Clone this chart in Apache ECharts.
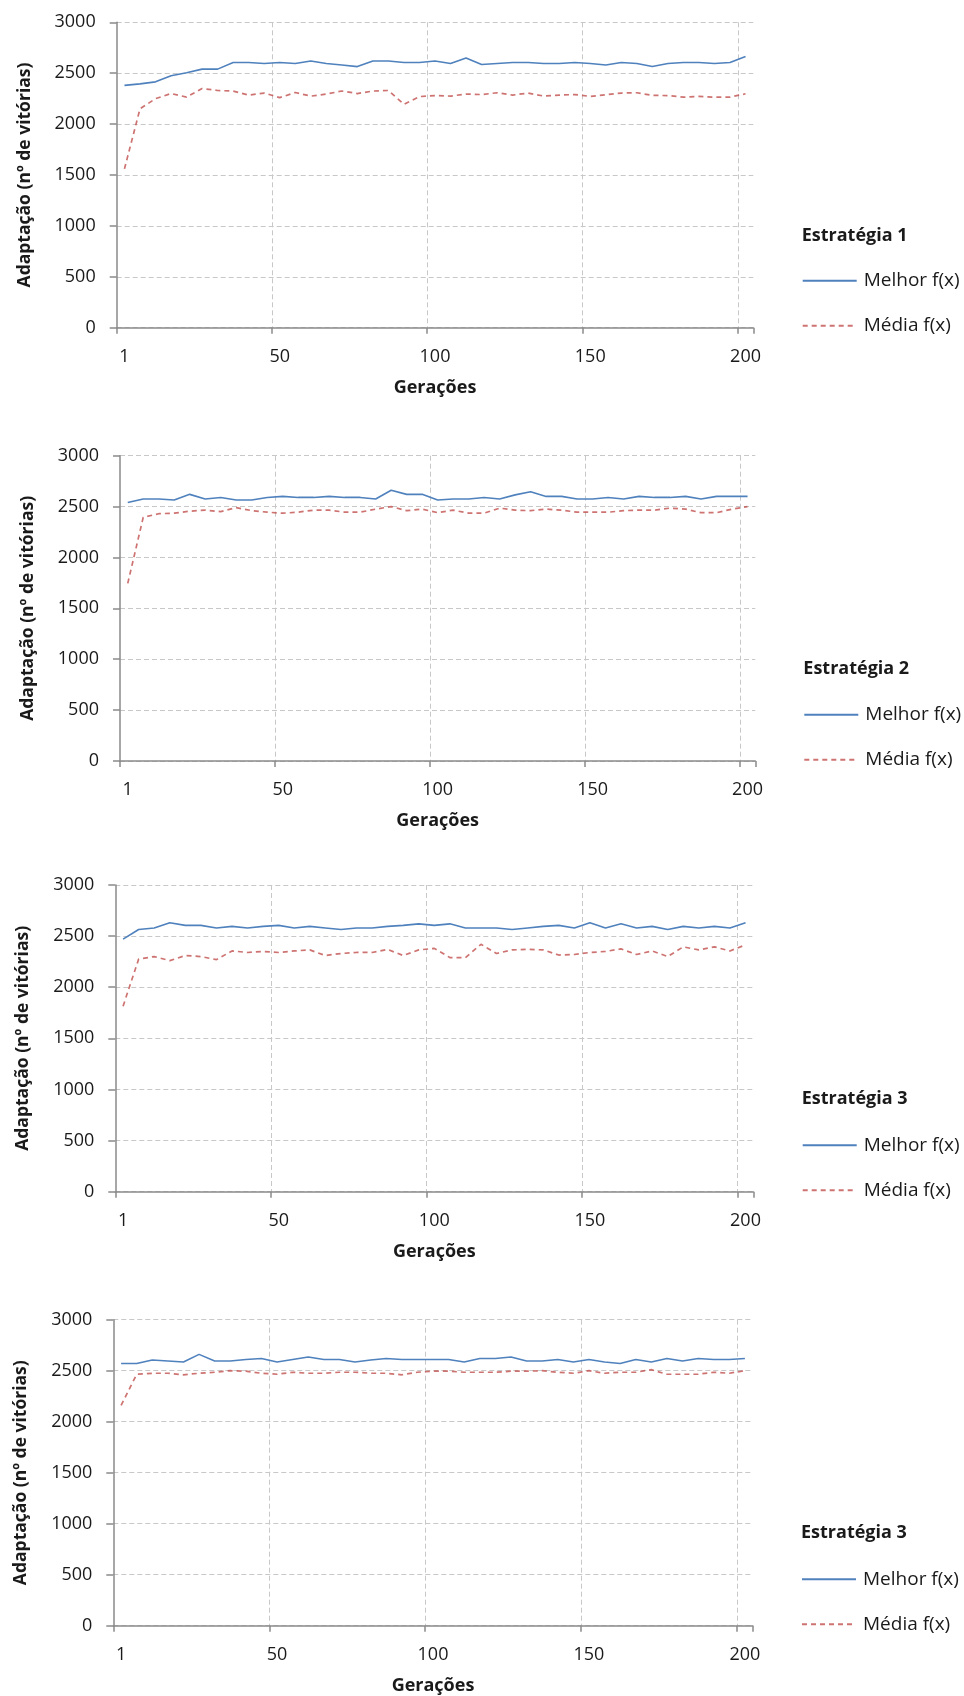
<!DOCTYPE html>
<html>
<head>
<meta charset="utf-8">
<script src="https://cdn.jsdelivr.net/npm/echarts@6/dist/echarts.min.js"></script>
<style>
html,body{margin:0;padding:0;background:#fff;}
#chart{width:964px;height:1696px;}
</style>
</head>
<body>
<div id="chart"></div>
<script>
const generations = ['1','5','10','15','20','25','30','35','40','45','50','55','60','65','70','75','80','85','90','95','100','105','110','115','120','125','130','135','140','145','150','155','160','165','170','175','180','185','190','195','200'];

const panelTitles = ['Estratégia 1', 'Estratégia 2', 'Estratégia 3', 'Estratégia 3'];
const seriesNames = ['Melhor f(x)', 'Média f(x)'];
const xAxisTitle = 'Gerações';
const yAxisTitle = 'Adaptação (nº de vitórias)';

const melhor1 = [2380,2395,2415,2475,2505,2540,2540,2605,2605,2595,2605,2595,2620,2595,2580,2565,2620,2620,2605,2605,2620,2595,2650,2585,2595,2605,2605,2595,2595,2605,2595,2580,2605,2595,2565,2595,2605,2605,2595,2605,2665];
const media1  = [1560,2150,2250,2300,2265,2350,2330,2325,2285,2305,2260,2310,2275,2295,2325,2300,2325,2330,2195,2270,2280,2275,2295,2290,2308,2285,2305,2275,2285,2290,2272,2288,2305,2308,2282,2280,2265,2272,2265,2265,2298];

const melhor2 = [2540,2575,2575,2565,2620,2575,2590,2565,2565,2590,2600,2590,2590,2600,2590,2590,2575,2660,2620,2620,2565,2575,2575,2590,2575,2615,2645,2600,2600,2575,2575,2590,2575,2600,2590,2590,2600,2575,2600,2600,2600];
const media2  = [1745,2395,2430,2435,2455,2465,2450,2490,2460,2445,2435,2445,2465,2465,2445,2445,2475,2500,2460,2475,2440,2465,2435,2435,2485,2465,2460,2475,2465,2445,2445,2445,2460,2465,2465,2485,2475,2440,2440,2475,2500];

const melhor3 = [2470,2565,2580,2630,2605,2605,2580,2595,2580,2595,2605,2580,2595,2580,2565,2580,2580,2595,2605,2620,2605,2620,2580,2580,2580,2565,2580,2595,2605,2580,2630,2580,2620,2580,2595,2565,2595,2580,2595,2580,2630];
const media3  = [1815,2275,2300,2260,2310,2300,2270,2355,2340,2350,2340,2355,2365,2310,2330,2340,2340,2370,2310,2365,2380,2290,2290,2420,2330,2365,2370,2365,2315,2320,2340,2350,2375,2320,2355,2300,2395,2365,2395,2355,2415];

const melhor4 = [2570,2570,2605,2595,2585,2660,2595,2595,2610,2620,2585,2610,2635,2610,2610,2585,2605,2620,2610,2610,2610,2610,2585,2620,2620,2635,2595,2595,2610,2585,2610,2585,2570,2610,2585,2620,2595,2620,2610,2610,2620];
const media4  = [2160,2465,2475,2475,2460,2475,2485,2500,2495,2475,2465,2485,2475,2475,2485,2485,2475,2475,2460,2485,2495,2495,2485,2485,2485,2495,2495,2500,2485,2475,2500,2475,2485,2485,2510,2465,2465,2465,2485,2475,2500];

const melhorData = [melhor1, melhor2, melhor3, melhor4];
const mediaData = [media1, media2, media3, media4];

// layout (pixels)
const grids = [
  {left: 116.7, top: 22.3,   width: 636.6, height: 305.4},
  {left: 120.0, top: 455.7,  width: 635.3, height: 305.3},
  {left: 115.3, top: 885.0,  width: 638.0, height: 306.7},
  {left: 113.3, top: 1319.7, width: 639.4, height: 306.0}
];
const legendPos = [
  {left: 801.7, title: 235.7, item: 278.3},
  {left: 803.3, title: 669.3, item: 712.3},
  {left: 801.7, title: 1099.3, item: 1142.7},
  {left: 801.0, title: 1533.3, item: 1576.7}
];

const FONT = '"Open Sans", "DejaVu Sans", sans-serif';
const TXT = '#1a1a1a';
const BLUE = '#4f81bd';
const RED = '#c0504d';
const AXIS = '#8a8a8a';
const GRID = '#c8c8c8';

const option = {
  animation: false,
  backgroundColor: '#ffffff',
  textStyle: {fontFamily: FONT},
  grid: [], xAxis: [], yAxis: [], series: [], title: [], legend: []
};

for (let i = 0; i < 4; i++) {
  const g = grids[i];
  option.grid.push({left: g.left, top: g.top, width: g.width, height: g.height, containLabel: false, outerBoundsMode: 'none'});
  option.xAxis.push({
    type: 'category', gridIndex: i, data: generations, boundaryGap: true,
    name: xAxisTitle, nameLocation: 'middle', nameGap: 51,
    nameTextStyle: {fontFamily: FONT, fontSize: 18, fontWeight: 'bold', color: TXT},
    axisLine: {show: true, lineStyle: {color: AXIS, width: 1.5}},
    axisTick: {show: true, interval: 9, length: 6, inside: false, lineStyle: {color: AXIS, width: 1.5}},
    axisLabel: {interval: 9, margin: 20, fontFamily: FONT, fontSize: 18, color: TXT},
    splitLine: {show: true, interval: 9, showMinLine: false, showMaxLine: false, lineStyle: {color: GRID, type: [5, 3], width: 1}}
  });
  option.yAxis.push({
    type: 'value', gridIndex: i, min: 0, max: 3000, interval: 500,
    name: yAxisTitle, nameLocation: 'middle', nameGap: 83,
    nameTextStyle: {fontFamily: FONT, fontSize: 17.5, fontWeight: 'bold', color: TXT},
    axisLine: {show: true, lineStyle: {color: AXIS, width: 1.5}},
    axisTick: {show: true, length: 7, lineStyle: {color: AXIS, width: 1.5}},
    axisLabel: {margin: 21, fontFamily: FONT, fontSize: 18, color: TXT, formatter: v => String(v)},
    splitLine: {show: true, lineStyle: {color: GRID, type: [5, 3], width: 1}}
  });
  option.series.push({
    name: seriesNames[0], type: 'line', xAxisIndex: i, yAxisIndex: i,
    data: melhorData[i], symbol: 'none', smooth: false,
    lineStyle: {color: BLUE, width: 1.6, type: 'solid'}, itemStyle: {color: BLUE}
  });
  option.series.push({
    name: seriesNames[1], type: 'line', xAxisIndex: i, yAxisIndex: i,
    data: mediaData[i], symbol: 'none', smooth: false,
    lineStyle: {color: RED, width: 1.7, type: [5, 4], opacity: 0.8}, itemStyle: {color: RED}
  });
  const L = legendPos[i];
  option.title.push({
    text: panelTitles[i], left: L.left, top: L.title - 12, padding: 0,
    textStyle: {fontFamily: FONT, fontSize: 18, fontWeight: 'bold', color: TXT, lineHeight: 24}
  });
  option.legend.push({
    orient: 'vertical', left: L.left, top: L.item - 7, padding: 0,
    itemWidth: 54, itemHeight: 14, itemGap: 26, selectedMode: false,
    itemStyle: {opacity: 0, borderWidth: 0},
    data: seriesNames,
    textStyle: {fontFamily: FONT, fontSize: 19, color: TXT, padding: [0, 0, 0, 2]}
  });
}

const chart = echarts.init(document.getElementById('chart'), null, {renderer: 'canvas'});
chart.setOption(option);
</script>
</body>
</html>
